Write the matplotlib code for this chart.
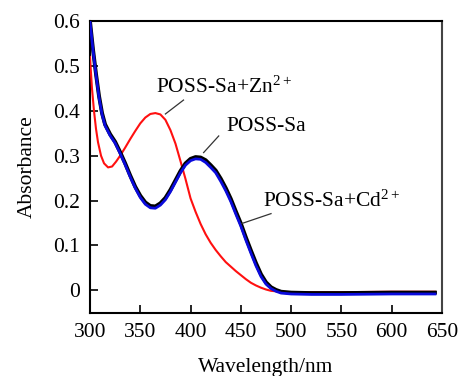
import matplotlib
matplotlib.use("Agg")
import matplotlib.pyplot as plt

plt.rcParams['font.family'] = ['Liberation Serif', 'DejaVu Serif']
plt.rcParams['mathtext.fontset'] = 'custom'
plt.rcParams['mathtext.rm'] = 'Liberation Serif'
plt.rcParams['mathtext.it'] = 'Liberation Serif'

# Data
wl_zn = [300, 302, 304, 306, 308, 311, 314, 318, 322, 326, 330, 335, 340, 345,
         350, 355, 360, 365, 370, 375, 380, 385, 390, 395, 400, 405, 410, 415,
         420, 425, 430, 435, 440, 445, 450, 455, 460, 465, 470, 475, 480, 490,
         500, 550, 600, 643]
abs_zn = [0.520, 0.450, 0.400, 0.360, 0.330, 0.300, 0.283, 0.274, 0.276, 0.287,
          0.300, 0.318, 0.337, 0.355, 0.372, 0.385, 0.393, 0.395, 0.392, 0.380,
          0.357, 0.327, 0.288, 0.248, 0.205, 0.175, 0.148, 0.125, 0.106, 0.090,
          0.076, 0.063, 0.053, 0.043, 0.034, 0.025, 0.017, 0.011, 0.006, 0.002,
          -0.001, -0.003, -0.004, -0.004, -0.003, -0.003]

wl_sa = [300, 303, 306, 309, 312, 315, 320, 325, 330, 335, 340, 345, 350, 355,
         360, 365, 370, 375, 380, 385, 390, 395, 400, 405, 410, 415, 420, 425,
         430, 435, 440, 445, 450, 455, 460, 465, 470, 475, 480, 485, 490, 500,
         520, 550, 600, 643]
abs_cd = [0.600, 0.535, 0.480, 0.430, 0.392, 0.367, 0.345, 0.328, 0.305, 0.280,
          0.253, 0.228, 0.207, 0.192, 0.184, 0.183, 0.190, 0.202, 0.220, 0.241,
          0.262, 0.279, 0.289, 0.293, 0.292, 0.285, 0.274, 0.262, 0.243, 0.222,
          0.198, 0.170, 0.143, 0.112, 0.083, 0.055, 0.031, 0.014, 0.004, -0.002,
          -0.006, -0.008, -0.009, -0.009, -0.008, -0.008]
abs_sa = [0.600, 0.537, 0.482, 0.433, 0.395, 0.370, 0.348, 0.331, 0.308, 0.283,
          0.256, 0.231, 0.211, 0.196, 0.188, 0.187, 0.194, 0.206, 0.224, 0.245,
          0.266, 0.283, 0.293, 0.297, 0.296, 0.290, 0.279, 0.267, 0.249, 0.228,
          0.204, 0.176, 0.149, 0.118, 0.089, 0.061, 0.036, 0.018, 0.007, 0.001,
          -0.003, -0.005, -0.006, -0.006, -0.005, -0.005]

xticks = [300, 350, 400, 450, 500, 550, 600, 650]
yticks = [0, 0.1, 0.2, 0.3, 0.4, 0.5, 0.6]
yticklabels = ['0', '0.1', '0.2', '0.3', '0.4', '0.5', '0.6']

FS = 15.5

fig = plt.figure(figsize=(4.59, 3.76), dpi=100)
ax = fig.add_axes([0.196, 0.168, 0.767, 0.776])

ax.plot(wl_zn, abs_zn, color='#ff1010', lw=1.5, zorder=3)
ax.plot(wl_sa, abs_sa, color='black', lw=2.8, zorder=4)
ax.plot(wl_sa, abs_cd, color='#0a0adc', lw=2.0, zorder=5)

ax.set_xlim(300, 650)
ax.set_ylim(-0.05, 0.6)
ax.set_xticks(xticks)
ax.set_xticklabels([str(t) for t in xticks])
ax.set_yticks(yticks)
ax.set_yticklabels(yticklabels)
ax.tick_params(direction='in', length=6, width=1.2, labelsize=FS,
               top=False, right=False)
ax.tick_params(axis='x', pad=7)
ax.tick_params(axis='y', pad=7)
for s in ax.spines.values():
    s.set_linewidth(1.5)
ax.spines['right'].set_color('#444444')

ax.set_xlabel('Wavelength/nm', fontsize=FS, labelpad=12)
ax.set_ylabel('Absorbance', fontsize=FS, labelpad=12)

lc = '#333333'
ax.plot([375, 393], [0.393, 0.424], color=lc, lw=0.9, zorder=6)
ax.text(366, 0.441, 'POSS-Sa+Zn$^{\\mathregular{2+}}$', fontsize=FS, va='baseline', ha='left')
ax.plot([413, 428], [0.307, 0.344], color=lc, lw=0.9, zorder=6)
ax.text(436, 0.356, 'POSS-Sa', fontsize=FS, va='baseline', ha='left')
ax.plot([451, 480], [0.149, 0.171], color=lc, lw=0.9, zorder=6)
ax.text(472, 0.187, 'POSS-Sa+Cd$^{\\mathregular{2+}}$', fontsize=FS, va='baseline', ha='left')

fig.savefig('out.png', dpi=100)
